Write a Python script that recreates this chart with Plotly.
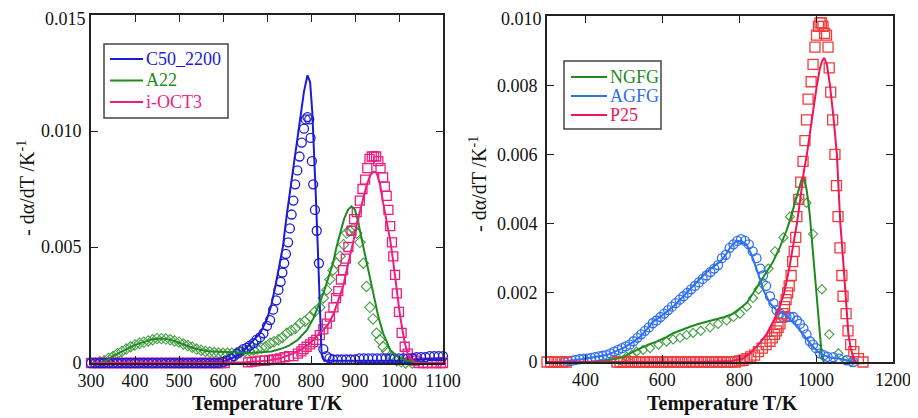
import plotly.graph_objects as go

# ---------------- Left panel data (T / K, -dalpha/dT / K^-1) ----------------
c50_line = [(300, 0), (450, 0), (600, 0.00005), (620, 0.0002), (640, 0.0004), (655, 0.0007),
            (670, 0.0010), (685, 0.0013), (700, 0.0019), (710, 0.0025), (720, 0.0034), (728, 0.0042),
            (736, 0.0050), (745, 0.0064), (756, 0.0079), (765, 0.0090), (775, 0.0104), (784, 0.0117),
            (792, 0.0124), (798, 0.0121), (803, 0.0108), (807, 0.0092), (811, 0.0072), (815, 0.0052),
            (818, 0.0036), (821, 0.0020), (824, 0.0004), (830, 0.0001), (900, 0.0001), (1000, 0.0001),
            (1100, 0.0002)]
c50_pts = [(300, 0), (310, 0), (320, 0), (330, 0), (340, 0), (350, 0), (360, 0), (370, 0), (380, 0),
           (390, 0), (400, 0), (410, 0), (420, 0), (430, 0), (440, 0), (450, 0), (460, 0), (470, 0),
           (480, 0), (490, 0), (500, 0), (510, 0), (520, 0), (530, 0), (540, 0), (550, 0), (560, 0),
           (570, 0), (580, 0), (590, 0), (600, 0.00005), (610, 0.0001), (618, 0.0002), (625, 0.0003),
           (632, 0.0004), (639, 0.0005), (646, 0.0006), (654, 0.00065), (661, 0.00075), (669, 0.00085),
           (676, 0.0010), (684, 0.0011), (692, 0.00128), (700, 0.0016), (707, 0.00185), (714, 0.0023),
           (721, 0.0027), (726, 0.00315), (731, 0.0035), (735, 0.0039), (739, 0.0043), (743, 0.0047),
           (748, 0.0052), (752, 0.0058), (756, 0.0064), (760, 0.0070), (764, 0.0077), (769, 0.0083),
           (774, 0.0089), (779, 0.0095), (784, 0.0101), (788, 0.0105), (792, 0.0106), (796, 0.0105),
           (799, 0.0097), (802, 0.0087), (805, 0.0077), (809, 0.0066), (813, 0.0057), (818, 0.0043),
           (828, 0.0006), (835, 0.0003), (842, 0.0002), (850, 0.00015), (860, 0.00015), (870, 0.00015),
           (880, 0.00015), (890, 0.00015), (900, 0.00015), (910, 0.0002), (920, 0.0002), (930, 0.0002),
           (940, 0.0002), (950, 0.0002), (960, 0.0002), (970, 0.0002), (980, 0.0002), (990, 0.0002),
           (1000, 0.0002), (1010, 0.0002), (1020, 0.0002), (1030, 0.0002), (1040, 0.00025),
           (1050, 0.00025), (1060, 0.00025), (1070, 0.0003), (1080, 0.0003), (1090, 0.0003),
           (1100, 0.0003)]

a22_line = [(300, 0), (320, 0), (335, 0.0001), (350, 0.0003), (365, 0.00045), (380, 0.0006),
            (400, 0.00078), (420, 0.0009), (440, 0.00102), (455, 0.00106), (470, 0.00104),
            (490, 0.00095), (510, 0.0008), (530, 0.00066), (550, 0.00056), (570, 0.0005),
            (590, 0.00048), (610, 0.00046), (630, 0.00045), (650, 0.00044), (670, 0.00044),
            (690, 0.00047), (710, 0.0005), (730, 0.0006), (750, 0.00075), (770, 0.0010),
            (790, 0.0014), (805, 0.0019), (815, 0.0024), (828, 0.0030), (840, 0.0037), (850, 0.0043),
            (858, 0.0050), (866, 0.0056), (875, 0.0062), (884, 0.0066), (892, 0.00675), (900, 0.0066),
            (908, 0.0060), (919, 0.0050), (930, 0.0040), (942, 0.0030), (953, 0.0020), (964, 0.00128),
            (972, 0.0009), (980, 0.00056), (995, 0.0003), (1010, 0.00015), (1030, 0.00005),
            (1060, 0), (1100, 0)]
a22_pts = [(320, 0.00005), (330, 0.0001), (340, 0.0002), (350, 0.00028), (360, 0.0004), (370, 0.0005),
           (380, 0.0006), (390, 0.0007), (400, 0.00078), (410, 0.00085), (420, 0.0009), (430, 0.00095),
           (440, 0.0010), (450, 0.00105), (460, 0.00105), (470, 0.00103), (480, 0.0010), (490, 0.00095),
           (500, 0.0009), (510, 0.00082), (520, 0.00075), (530, 0.00068), (540, 0.0006), (550, 0.00055),
           (560, 0.0005), (570, 0.00047), (580, 0.00045), (590, 0.00043), (600, 0.00042), (610, 0.00042),
           (620, 0.00042), (630, 0.00043), (640, 0.00045), (650, 0.0005), (660, 0.00053), (669, 0.00056),
           (678, 0.0006), (688, 0.00065), (697, 0.0007), (707, 0.00085), (716, 0.00092), (726, 0.0010),
           (735, 0.0011), (745, 0.00128), (755, 0.0014), (765, 0.0015), (775, 0.0017), (786, 0.0018),
           (798, 0.0020), (808, 0.0022), (820, 0.0024), (828, 0.0028), (836, 0.00315), (843, 0.0036),
           (850, 0.0040), (858, 0.0043), (866, 0.0046), (874, 0.0051), (881, 0.0056), (888, 0.0057),
           (896, 0.0058), (904, 0.0056), (911, 0.0052), (919, 0.0043), (926, 0.0033), (934, 0.0024),
           (941, 0.0019), (949, 0.00128), (956, 0.0010), (964, 0.0007), (972, 0.0005), (980, 0.0003),
           (988, 0.0002), (995, 0.0001), (1005, 0.00005), (1015, 0), (1030, 0)]

ioct_line = [(300, 0), (500, 0), (650, 0.00003), (700, 0.0001), (730, 0.0002), (760, 0.00042),
             (780, 0.0006), (798, 0.00085), (815, 0.0012), (828, 0.00142), (840, 0.0017), (851, 0.0021),
             (862, 0.0027), (873, 0.0033), (881, 0.0040), (889, 0.0046), (897, 0.0053), (904, 0.0060),
             (912, 0.0066), (919, 0.0072), (927, 0.0077), (935, 0.0081), (942, 0.00825), (949, 0.0082),
             (957, 0.0077), (964, 0.0069), (972, 0.0061), (980, 0.0053), (986, 0.0045), (991, 0.0037),
             (997, 0.0029), (1002, 0.0021), (1008, 0.0014), (1014, 0.0008), (1020, 0.0004),
             (1025, 0.0002), (1040, 0), (1100, 0)]
ioct_pts = [(300, 0), (308, 0), (316, 0), (324, 0), (332, 0), (340, 0), (348, 0), (356, 0), (364, 0),
            (372, 0), (380, 0), (388, 0), (396, 0), (404, 0), (412, 0), (420, 0), (428, 0), (436, 0),
            (444, 0), (452, 0), (460, 0), (468, 0), (476, 0), (484, 0), (492, 0), (500, 0), (508, 0),
            (516, 0), (524, 0), (532, 0), (540, 0), (548, 0), (556, 0), (564, 0), (572, 0), (580, 0),
            (588, 0), (596, 0), (604, 0),
            (657, 0.00003), (665, 0.00005), (673, 0.00007), (684, 0.0001), (695, 0.0001), (705, 0.00012),
            (715, 0.00015), (722, 0.00015), (730, 0.0002), (740, 0.00025), (750, 0.0003), (760, 0.0003),
            (770, 0.0004), (778, 0.0005), (783, 0.0006), (790, 0.0007), (798, 0.0008), (805, 0.0009),
            (812, 0.0010), (820, 0.0012), (828, 0.00145), (836, 0.0017), (843, 0.0020), (851, 0.0024),
            (857, 0.0028), (862, 0.0031), (868, 0.0036), (873, 0.0040), (879, 0.0045), (885, 0.0050),
            (892, 0.0057), (898, 0.0062), (904, 0.0065), (911, 0.0070), (917, 0.0075), (923, 0.0079),
            (928, 0.0084), (933, 0.0088), (938, 0.0089), (943, 0.0089), (948, 0.0089), (953, 0.0087),
            (958, 0.0084), (964, 0.0080), (968, 0.0076), (972, 0.0072), (976, 0.0066), (980, 0.0059),
            (984, 0.0052), (987, 0.0046), (991, 0.0038), (995, 0.0030), (1000, 0.0022), (1006, 0.0013),
            (1013, 0.0007), (1020, 0.0004), (1028, 0.0002), (1036, 0.0001), (1045, 0), (1055, 0),
            (1065, 0), (1075, 0), (1085, 0), (1095, 0), (1100, 0)]

# ---------------- Right panel data ----------------
ngfg_line = [(300, 0), (400, 0), (450, 0.00003), (498, 0.00014), (520, 0.00027), (542, 0.0004),
             (563, 0.0005), (585, 0.00059), (607, 0.0007), (628, 0.00083), (650, 0.00093),
             (672, 0.00102), (693, 0.0011), (715, 0.00116), (741, 0.00124), (762, 0.0013), (784, 0.0014),
             (802, 0.00155), (819, 0.0017), (837, 0.0020), (854, 0.0023), (871, 0.0026), (888, 0.0029),
             (905, 0.0033), (914, 0.00353), (923, 0.0038), (932, 0.0041), (940, 0.0044), (947, 0.0047),
             (955, 0.0050), (963, 0.0053), (968, 0.0053), (975, 0.0050), (980, 0.0046), (984, 0.0042),
             (990, 0.0034), (997, 0.00247), (1002, 0.0018), (1006, 0.0012), (1011, 0.0006),
             (1015, 0.00015), (1020, 0)]
ngfg_pts = [(490, 0.00005), (507, 0.00015), (520, 0.0002), (533, 0.0003), (550, 0.00035), (568, 0.0004),
            (590, 0.0005), (611, 0.00059), (628, 0.00065), (646, 0.0007), (663, 0.00078), (680, 0.00084),
            (700, 0.0009), (724, 0.0010), (745, 0.0011), (767, 0.0012), (785, 0.0013), (802, 0.0014),
            (820, 0.0016), (836, 0.00185), (850, 0.0021), (862, 0.0023), (876, 0.0027), (893, 0.0032),
            (915, 0.0036), (932, 0.0042), (953, 0.0047), (975, 0.0046), (992, 0.0037), (1015, 0.0021),
            (1034, 0.0008), (1058, 0.00025), (1075, 0.00005), (1090, 0)]

agfg_line = [(334, 0), (360, 0.00003), (390, 0.00008), (412, 0.00012), (435, 0.00016), (455, 0.0002),
             (477, 0.0003), (498, 0.0004), (520, 0.00055), (542, 0.00073), (560, 0.00095),
             (576, 0.00116), (594, 0.0013), (611, 0.00145), (628, 0.0016), (646, 0.0018), (663, 0.0020),
             (680, 0.0022), (698, 0.0024), (715, 0.0026), (732, 0.00275), (750, 0.0029), (765, 0.0031),
             (776, 0.0033), (788, 0.00345), (797, 0.0035), (808, 0.00348), (819, 0.0034), (832, 0.0031),
             (845, 0.0027), (854, 0.0024), (862, 0.0021), (871, 0.0019), (880, 0.0017), (889, 0.0016),
             (897, 0.0015), (906, 0.00145), (914, 0.0014), (923, 0.00135), (935, 0.0012), (949, 0.00105),
             (966, 0.0008), (980, 0.0006), (992, 0.00044), (1005, 0.0003), (1018, 0.0002),
             (1040, 0.00012), (1058, 0.0001), (1080, 0.00005), (1100, 0)]
agfg_pts = [(345, 0), (355, 0.00002), (365, 0.00004), (375, 0.00006), (385, 0.00008), (395, 0.0001),
            (405, 0.0001), (415, 0.00012), (425, 0.00014), (435, 0.00016), (445, 0.00018), (455, 0.0002),
            (465, 0.00025), (475, 0.0003), (485, 0.00035), (495, 0.0004), (505, 0.00045), (515, 0.0005),
            (525, 0.0006), (535, 0.0007), (545, 0.0008), (555, 0.0009), (565, 0.0010), (575, 0.00112),
            (585, 0.0012), (595, 0.0013), (605, 0.0014), (615, 0.0015), (625, 0.0016), (635, 0.0017),
            (645, 0.0018), (655, 0.0019), (665, 0.0020), (675, 0.0021), (685, 0.0022), (695, 0.0023),
            (705, 0.0024), (715, 0.0025), (725, 0.0026), (735, 0.0027), (745, 0.0028), (755, 0.0030),
            (765, 0.0031), (775, 0.0033), (785, 0.0034), (795, 0.0035), (805, 0.00355), (815, 0.0035),
            (825, 0.0034), (835, 0.0032), (845, 0.0030), (855, 0.0027), (862, 0.0025), (870, 0.0022),
            (880, 0.0019), (889, 0.0017), (897, 0.0015), (906, 0.0014), (914, 0.0013), (923, 0.0013),
            (932, 0.0013), (941, 0.0013), (950, 0.0012), (958, 0.0011), (967, 0.00097), (975, 0.0008),
            (984, 0.0006), (992, 0.0005), (1000, 0.0004), (1010, 0.00025), (1020, 0.0002),
            (1030, 0.00015), (1045, 0.00014), (1060, 0.0001), (1080, 0.00005), (1097, 0)]

p25_line = [(300, 0), (500, 0), (700, 0), (780, 0.00003), (810, 0.0001), (828, 0.00025), (850, 0.0005),
            (871, 0.0008), (890, 0.0012), (905, 0.0016), (917, 0.0020), (930, 0.0027), (940, 0.0033),
            (950, 0.0040), (960, 0.0048), (968, 0.0055), (976, 0.0060), (985, 0.0067), (993, 0.0074),
            (1002, 0.0080), (1010, 0.0085), (1016, 0.0087), (1021, 0.00879), (1028, 0.0086),
            (1036, 0.0080), (1045, 0.0071), (1054, 0.0060), (1063, 0.0040), (1070, 0.0030),
            (1076, 0.0020), (1084, 0.0008), (1090, 0.0004), (1097, 0.0001), (1105, 0)]
p25_pts = [(300, 0), (310, 0), (320, 0), (330, 0), (340, 0), (350, 0),
           (482, 0), (490, 0), (500, 0), (510, 0), (520, 0), (530, 0), (540, 0), (550, 0), (560, 0),
           (570, 0), (580, 0), (590, 0), (600, 0), (610, 0), (620, 0), (630, 0), (640, 0), (650, 0),
           (660, 0), (670, 0), (680, 0), (690, 0), (700, 0), (710, 0), (720, 0), (730, 0), (740, 0),
           (750, 0), (760, 0), (770, 0), (780, 0), (790, 0), (800, 0.00003),
           (810, 0.00005), (820, 0.0001), (830, 0.00015), (840, 0.0002), (850, 0.0003), (860, 0.0004),
           (870, 0.0005), (880, 0.0006), (886, 0.0007), (892, 0.0008), (897, 0.0009), (901, 0.0010),
           (906, 0.0011), (910, 0.0013), (914, 0.0014), (918, 0.0016), (922, 0.0018), (926, 0.0020),
           (930, 0.0022), (935, 0.0025), (939, 0.0029), (943, 0.0032), (947, 0.0036), (950, 0.0042),
           (955, 0.0047), (960, 0.0052), (966, 0.0058), (971, 0.0064), (975, 0.0070), (979, 0.0076),
           (987, 0.0081), (992, 0.0086), (997, 0.0091), (1001, 0.00945), (1006, 0.0097), (1010, 0.0098),
           (1014, 0.0098), (1018, 0.0097), (1022, 0.0095), (1027, 0.00945), (1031, 0.0091),
           (1034, 0.0085), (1038, 0.0078), (1043, 0.0070), (1049, 0.0060), (1053, 0.0051),
           (1057, 0.0042), (1062, 0.0033), (1067, 0.0025), (1070, 0.0019), (1078, 0.0014),
           (1083, 0.0009), (1090, 0.0005), (1098, 0.0003), (1110, 0.0001), (1122, 0)]

left_xticks = [300, 400, 500, 600, 700, 800, 900, 1000, 1100]
left_yticks = [0, 0.005, 0.010]
left_yticktext = ["0", "0.005", "0.010"]
left_ytop = "0.015"
right_xticks = [400, 600, 800, 1000, 1200]
right_yticks = [0, 0.002, 0.004, 0.006, 0.008]
right_yticktext = ["0", "0.002", "0.004", "0.006", "0.008"]
right_ytop = "0.010"
left_names = ["C50_2200", "A22", "i-OCT3"]
right_names = ["NGFG", "AGFG", "P25"]

C50 = "#1c1cd8"
A22 = "#1f8a1f"
A22M = "#45a045"
IOCT = "#ec1f80"
NGFG = "#1f8a1f"
AGFG = "#2f6ff2"
P25L = "#ee1658"
P25M = "#f03c3c"

SERIF = "Liberation Serif"
# the page puts the figure 8 px in from the window's top-left corner
OFF = 8
W, H = 918 - OFF, 418 - OFF


def xs(pts):
    return [p[0] for p in pts]


def ys(pts):
    return [p[1] for p in pts]


fig = go.Figure()


def add_markers(pts, symbol, color, size, xa, ya, width=1.3):
    fig.add_trace(go.Scatter(x=xs(pts), y=ys(pts), mode="markers", xaxis=xa, yaxis=ya,
                             showlegend=False, cliponaxis=False,
                             marker=dict(symbol=symbol, size=size, color=color,
                                         line=dict(color=color, width=width))))


def add_line(pts, color, name, xa, ya):
    fig.add_trace(go.Scatter(x=xs(pts), y=ys(pts), mode="lines", xaxis=xa, yaxis=ya,
                             name=name, showlegend=False, cliponaxis=False,
                             line=dict(color=color, width=2)))


# left panel
add_markers(a22_pts, "diamond-open", A22M, 8, "x", "y", 1.1)
add_markers(ioct_pts, "square-open", IOCT, 9, "x", "y")
add_markers(c50_pts, "circle-open", C50, 9, "x", "y")
add_line(c50_line, C50, left_names[0], "x", "y")
add_line(a22_line, A22, left_names[1], "x", "y")
add_line(ioct_line, IOCT, left_names[2], "x", "y")

# right panel
add_markers(ngfg_pts, "diamond-open", A22M, 7, "x2", "y2", 1.1)
add_markers(agfg_pts, "circle-open", AGFG, 9, "x2", "y2")
add_markers(p25_pts, "square-open", P25M, 10, "x2", "y2")
add_line(ngfg_line, NGFG, right_names[0], "x2", "y2")
add_line(agfg_line, AGFG, right_names[1], "x2", "y2")
add_line(p25_line, P25L, right_names[2], "x2", "y2")

axis_common = dict(showline=True, linecolor="#222", linewidth=1.6, mirror="ticks",
                   ticks="inside", ticklen=7, tickwidth=1.4, tickcolor="#222",
                   showgrid=False, zeroline=False, automargin=False,
                   ticklabeloverflow="allow",
                   tickfont=dict(family=SERIF, size=18, color="#111"))

shapes = []
annotations = []


def px(x):
    return (x - OFF) / W


def py(y):
    return 1 - (y - OFF) / H


def legend_box(x0, y0, x1, y1, line_x0, line_x1, rows, names, colors):
    shapes.append(dict(type="rect", xref="paper", yref="paper", x0=px(x0), x1=px(x1),
                       y0=py(y1), y1=py(y0), line=dict(color="#444", width=1.5),
                       fillcolor="white", layer="above"))
    for yy, nm, col in zip(rows, names, colors):
        shapes.append(dict(type="line", xref="paper", yref="paper", x0=px(line_x0), x1=px(line_x1),
                           y0=py(yy), y1=py(yy), line=dict(color=col, width=2), layer="above"))
        annotations.append(dict(text=nm, x=px(line_x1 + 1), y=py(yy), xref="paper", yref="paper",
                                xanchor="left", yanchor="middle", showarrow=False,
                                font=dict(family=SERIF, size=18, color=col)))


legend_box(104, 44, 228, 118, 110, 143, [59, 80.5, 102], left_names, [C50, A22, IOCT])
legend_box(564, 61, 661, 129, 571, 607, [77, 96, 115], right_names, [NGFG, AGFG, P25L])

annotations += [
    # top-most y tick labels, kept just inside the page's top edge
    dict(text=left_ytop, x=px(87), y=1, xref="paper", yref="paper", xanchor="right",
         yanchor="top", showarrow=False, borderpad=0,
         font=dict(family=SERIF, size=18, color="#111")),
    dict(text=right_ytop, x=px(543), y=1, xref="paper", yref="paper", xanchor="right",
         yanchor="top", showarrow=False, borderpad=0,
         font=dict(family=SERIF, size=18, color="#111")),
    dict(text="<b>Temperature T/K</b>", x=px(267), y=py(403), xref="paper", yref="paper",
         xanchor="center", yanchor="middle", showarrow=False,
         font=dict(family=SERIF, size=20, color="#111")),
    dict(text="<b>Temperature T/K</b>", x=px(722), y=py(403), xref="paper", yref="paper",
         xanchor="center", yanchor="middle", showarrow=False,
         font=dict(family=SERIF, size=20, color="#111")),
    dict(text="- d\u03b1/dT /K<sup>-1</sup>", x=px(26), y=py(188), xref="paper",
         yref="paper", xanchor="center", yanchor="middle", showarrow=False, textangle=-90,
         font=dict(family=SERIF, size=20, color="#111")),
    dict(text="- d\u03b1/dT /K<sup>-1</sup>", x=px(478), y=py(184), xref="paper",
         yref="paper", xanchor="center", yanchor="middle", showarrow=False, textangle=-90,
         font=dict(family=SERIF, size=20, color="#111")),
]

fig.update_layout(
    width=W, height=H,
    margin=dict(l=0, r=0, t=0, b=0, autoexpand=False),
    paper_bgcolor="white", plot_bgcolor="white",
    showlegend=False,
    xaxis=dict(domain=[px(91), px(443)], range=[300, 1100], tickmode="array",
               tickvals=left_xticks, anchor="y", ticklabelstandoff=1, **axis_common),
    yaxis=dict(domain=[py(363), py(15)], range=[0, 0.015], tickmode="array", tickvals=left_yticks,
               ticktext=left_yticktext, anchor="x", ticklabelstandoff=4, **axis_common),
    xaxis2=dict(domain=[px(547), px(893)], range=[300, 1200], tickmode="array",
                tickvals=right_xticks, anchor="y2", ticklabelstandoff=1, **axis_common),
    yaxis2=dict(domain=[py(362), py(16)], range=[0, 0.010], tickmode="array",
                tickvals=right_yticks, ticktext=right_yticktext, anchor="x2",
                ticklabelstandoff=4, **axis_common),
    shapes=shapes,
    annotations=annotations,
)

fig.write_html("out.html")
